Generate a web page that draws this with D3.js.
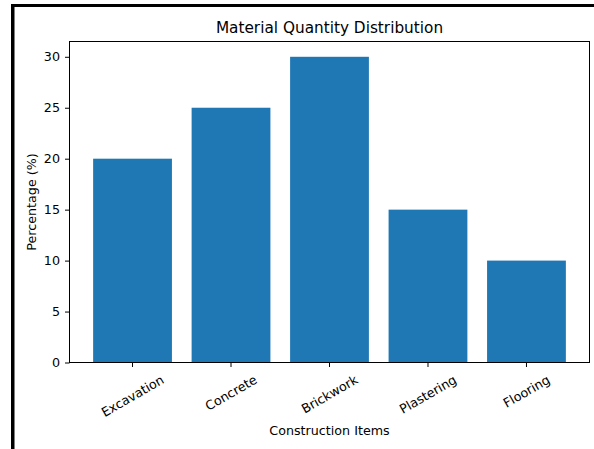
<!DOCTYPE html>
<html>
<head>
<meta charset="utf-8">
<script src="https://cdn.jsdelivr.net/npm/d3@7"></script>
<style>
  body { margin: 0; background: #fff; }
  svg { display: block; }
  text { font-family: "DejaVu Sans", sans-serif; fill: #000; }
</style>
</head>
<body>
<svg id="chart" width="594" height="449"></svg>
<script>
const items = ["Excavation", "Concrete", "Brickwork", "Plastering", "Flooring"];
const percentages = [20, 25, 30, 15, 10];
const yTicks = [0, 5, 10, 15, 20, 25, 30];

const svg = d3.select("#chart");
const plotLeft = 69.5, plotRight = 589.5, plotTop = 41.5, plotBottom = 362.5;
const fs = 12.7;

// outer frame, only top and left edges visible
svg.append("rect").attr("x", 11).attr("y", 4).attr("width", 600).attr("height", 3).attr("fill", "#000");
svg.append("rect").attr("x", 11).attr("y", 4).attr("width", 3.5).attr("height", 460).attr("fill", "#000");

const x = d3.scaleBand()
	.domain(items)
	.range([plotLeft, plotRight])
	.paddingInner(0.2)
	.paddingOuter(0.24);

const y = d3.scaleLinear()
	.domain([0, 31.5])
	.range([plotBottom, plotTop]);

svg.append("g")
	.selectAll("rect")
	.data(items)
	.join("rect")
	.attr("x", d => x(d))
	.attr("width", x.bandwidth())
	.attr("y", (d, i) => y(percentages[i]))
	.attr("height", (d, i) => y(0) - y(percentages[i]))
	.attr("fill", "#1f77b4");

// y axis
const yAxis = svg.append("g")
	.attr("transform", `translate(${plotLeft},0)`)
	.call(d3.axisLeft(y).tickValues(yTicks).tickSize(4.5).tickPadding(5).tickFormat(d3.format("d")));
yAxis.select(".domain").remove();
yAxis.selectAll("line").attr("stroke", "#000").attr("stroke-width", 1);
yAxis.selectAll("text").attr("font-size", fs).attr("font-family", "DejaVu Sans").attr("fill", "#000");

// x axis
const xAxis = svg.append("g")
	.attr("transform", `translate(0,${plotBottom})`)
	.call(d3.axisBottom(x).tickSize(4.5).tickPadding(0));
xAxis.select(".domain").remove();
xAxis.selectAll("line").attr("stroke", "#000").attr("stroke-width", 1);
xAxis.selectAll("text")
	.attr("font-size", fs)
	.attr("font-family", "DejaVu Sans")
	.attr("fill", "#000")
	.attr("dy", null)
	.attr("y", null)
	.attr("dominant-baseline", "central")
	.attr("text-anchor", "middle")
	.each(function() {
		const w = this.getComputedTextLength();
		const h = fs * 1.0;
		const cy = 10.5 + (w * 0.5 + h * 0.866) / 2;
		d3.select(this).attr("transform", `translate(0,${cy}) rotate(-30)`);
	});

// spines
svg.append("rect")
	.attr("x", plotLeft).attr("y", plotTop)
	.attr("width", plotRight - plotLeft).attr("height", plotBottom - plotTop)
	.attr("fill", "none").attr("stroke", "#000").attr("stroke-width", 1);

svg.append("text")
	.attr("x", (plotLeft + plotRight) / 2).attr("y", 33.3)
	.attr("text-anchor", "middle")
	.attr("font-size", 15.3)
	.text("Material Quantity Distribution");

svg.append("text")
	.attr("x", (plotLeft + plotRight) / 2).attr("y", 434.5)
	.attr("text-anchor", "middle")
	.attr("font-size", fs)
	.text("Construction Items");

svg.append("text")
	.attr("transform", `translate(35.5,${(plotTop + plotBottom) / 2}) rotate(-90)`)
	.attr("text-anchor", "middle")
	.attr("font-size", fs)
	.text("Percentage (%)");
</script>
</body>
</html>
